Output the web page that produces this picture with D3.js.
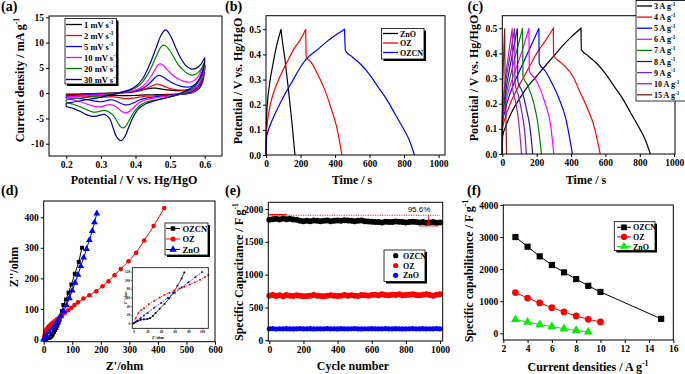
<!DOCTYPE html>
<html><head><meta charset="utf-8">
<script src="https://cdn.jsdelivr.net/npm/d3@7"></script>
<style>
body{margin:0;background:#fff;}
</style></head><body><script>
const FONT = '"Liberation Serif","Times New Roman",serif';

// ---- (a) CV curves: [potential V, current mA/g], anodic then cathodic ----
const cvLabels = ["1 mV s^{-1}", "2 mV s^{-1}", "5 mV s^{-1}", "10 mV s^{-1}", "20 mV s^{-1}", "30 mV s^{-1}"];
const cvColors = ["#000000", "#ff0000", "#0000ff", "#ff00ff", "#008000", "#00008b"];
const cv1 = [[0.2,-0.2],[0.25,-0.15],[0.3,-0.05],[0.35,0.1],[0.4,0.4],[0.43,0.8],[0.45,1.0],[0.46,1.0],[0.475,0.8],[0.5,0.6],[0.53,0.5],[0.55,0.6],[0.57,0.9],[0.585,1.8],[0.6,5.4],
  [0.595,2.5],[0.585,1.0],[0.57,0.3],[0.55,-0.1],[0.52,-0.2],[0.49,-0.25],[0.46,-0.3],[0.43,-0.35],[0.4,-0.45],[0.375,-0.5],[0.35,-0.45],[0.32,-0.4],[0.3,-0.4],[0.25,-0.3],[0.2,-0.3],[0.2,-0.2]];
const cv2 = [[0.2,-0.4],[0.25,-0.3],[0.3,-0.1],[0.35,0.0],[0.4,0.3],[0.43,0.9],[0.45,1.5],[0.46,1.8],[0.47,1.7],[0.485,1.3],[0.5,0.9],[0.53,0.6],[0.55,0.6],[0.57,0.9],[0.585,1.8],[0.6,5.5],
  [0.595,2.8],[0.585,1.3],[0.57,0.4],[0.55,-0.1],[0.52,-0.3],[0.49,-0.4],[0.46,-0.5],[0.43,-0.6],[0.41,-0.8],[0.39,-1.0],[0.375,-1.1],[0.36,-1.0],[0.345,-0.8],[0.33,-0.7],[0.315,-0.8],[0.3,-0.8],[0.28,-0.7],[0.25,-0.6],[0.2,-0.5],[0.2,-0.4]];
const cv5 = [[0.2,-0.6],[0.25,-0.4],[0.3,-0.2],[0.35,0.0],[0.4,0.4],[0.43,1.3],[0.45,2.6],[0.462,3.4],[0.47,3.5],[0.48,3.2],[0.495,2.5],[0.51,1.9],[0.53,1.4],[0.55,1.2],[0.565,1.4],[0.58,2.3],[0.6,5.5],
  [0.595,3.0],[0.585,1.6],[0.57,0.6],[0.55,0.0],[0.52,-0.3],[0.49,-0.5],[0.46,-0.7],[0.43,-1.0],[0.41,-1.4],[0.395,-1.9],[0.38,-2.3],[0.37,-2.3],[0.36,-2.1],[0.345,-1.6],[0.33,-1.3],[0.315,-1.5],[0.3,-1.7],[0.285,-1.6],[0.26,-1.3],[0.23,-1.0],[0.2,-0.9],[0.2,-0.6]];
const cv10 = [[0.2,-0.8],[0.25,-0.5],[0.3,-0.3],[0.35,0.0],[0.4,0.6],[0.42,1.3],[0.44,2.8],[0.455,4.5],[0.465,5.6],[0.472,5.8],[0.48,5.5],[0.495,4.4],[0.51,3.4],[0.53,2.6],[0.55,2.2],[0.565,2.3],[0.58,3.2],[0.6,5.8],
  [0.595,3.5],[0.585,2.0],[0.57,0.9],[0.55,0.2],[0.52,-0.3],[0.49,-0.6],[0.46,-0.9],[0.43,-1.3],[0.41,-1.9],[0.395,-2.8],[0.38,-3.7],[0.37,-3.9],[0.36,-3.6],[0.35,-3.0],[0.335,-2.4],[0.32,-2.3],[0.305,-2.6],[0.29,-2.7],[0.27,-2.4],[0.25,-1.9],[0.225,-1.4],[0.2,-1.1],[0.2,-0.8]];
const cv20 = [[0.2,-1.3],[0.25,-0.9],[0.3,-0.5],[0.35,0.0],[0.38,0.5],[0.4,1.0],[0.42,2.2],[0.44,4.3],[0.46,7.3],[0.472,9.0],[0.48,9.5],[0.49,9.2],[0.505,7.8],[0.52,6.0],[0.54,4.4],[0.56,3.6],[0.575,3.8],[0.59,4.8],[0.6,6.3],
  [0.595,4.0],[0.585,2.5],[0.57,1.2],[0.55,0.3],[0.52,-0.4],[0.49,-0.9],[0.46,-1.3],[0.43,-1.8],[0.41,-2.6],[0.395,-3.8],[0.38,-5.6],[0.368,-6.8],[0.36,-6.8],[0.35,-6.0],[0.34,-4.8],[0.325,-3.8],[0.31,-3.4],[0.29,-3.7],[0.275,-3.7],[0.26,-3.3],[0.24,-2.7],[0.22,-2.2],[0.2,-1.8],[0.2,-1.3]];
const cv30 = [[0.2,-2.0],[0.25,-1.4],[0.3,-0.8],[0.35,0.0],[0.38,0.6],[0.4,1.3],[0.42,2.8],[0.44,5.5],[0.46,9.0],[0.475,11.6],[0.487,12.5],[0.5,11.5],[0.515,9.2],[0.53,7.0],[0.545,5.5],[0.56,4.8],[0.575,4.9],[0.59,5.8],[0.6,7.0],
  [0.595,4.5],[0.585,2.8],[0.57,1.5],[0.55,0.6],[0.52,-0.3],[0.49,-0.9],[0.46,-1.4],[0.43,-2.1],[0.41,-3.0],[0.395,-4.5],[0.38,-6.8],[0.37,-8.5],[0.358,-9.4],[0.345,-8.6],[0.335,-6.8],[0.325,-5.0],[0.31,-4.2],[0.29,-4.5],[0.275,-4.6],[0.26,-4.3],[0.24,-3.6],[0.22,-3.0],[0.2,-2.6],[0.2,-2.0]];
const cvCurves = [cv1, cv2, cv5, cv10, cv20, cv30];

// ---- (b) GCD of the three samples: [time s, potential V] ----
const gcdSamples = ["ZnO", "OZ", "OZCN"];
const gcdSampleColors = ["#000000", "#ff0000", "#0000ff"];
const gcdSampleCharge = [
  [[0,0],[3,0.15],[10,0.22],[20,0.28],[40,0.36],[60,0.43],[87,0.5]],
  [[0,0],[2,0.08],[10,0.14],[25,0.2],[50,0.26],[80,0.31],[100,0.34],[130,0.38],[160,0.42],[200,0.46],[230,0.5]],
  [[0,0],[3,0.07],[10,0.09],[25,0.12],[50,0.16],[100,0.23],[150,0.29],[200,0.35],[232,0.38],[300,0.42],[350,0.45],[400,0.475],[455,0.5]]
];
const gcdSampleDischarge = [
  [[87,0.5],[90,0.48],[110,0.38],[130,0.26],[150,0.13],[168,0]],
  [[230,0.5],[233,0.39],[260,0.37],[300,0.32],[340,0.26],[380,0.18],[410,0.11],[440,0]],
  [[455,0.5],[460,0.415],[500,0.39],[550,0.36],[600,0.32],[650,0.27],[700,0.22],[750,0.16],[800,0.1],[830,0.06],[860,0]]
];

// ---- (c) GCD of OZCN at different current densities ----
const gcdCurrents = ["3 A g^{-1}", "4 A g^{-1}", "5 A g^{-1}", "6 A g^{-1}", "7 A g^{-1}", "8 A g^{-1}", "9 A g^{-1}", "10 A g^{-1}", "15 A g^{-1}"];
const gcdCurrentColors = ["#000000", "#ff0000", "#0000ff", "#ff00ff", "#008000", "#1c1c9c", "#7d1fb8", "#b01cb0", "#8b1a1a"];
const gcdCharge = [
  [[0,0],[2,0.07],[20,0.11],[50,0.16],[100,0.22],[150,0.27],[200,0.31],[250,0.35],[300,0.39],[350,0.43],[400,0.465],[458,0.5]],
  [[0,0],[1,0.1],[15,0.14],[40,0.19],[80,0.25],[120,0.3],[160,0.35],[200,0.4],[250,0.45],[297,0.5]],
  [[0,0],[1,0.12],[15,0.17],[40,0.23],[80,0.3],[120,0.36],[160,0.42],[213,0.5]],
  [[0,0],[1,0.13],[15,0.19],[40,0.26],[80,0.34],[120,0.42],[155,0.5]],
  [[0,0],[1,0.14],[15,0.21],[40,0.29],[80,0.4],[118,0.5]],
  [[0,0],[1,0.15],[15,0.23],[40,0.33],[65,0.42],[88,0.5]],
  [[0,0],[1,0.16],[15,0.26],[40,0.37],[72,0.5]],
  [[0,0],[1,0.17],[15,0.28],[35,0.39],[58,0.5]],
  [[0,0],[1,0.2],[6,0.35],[14,0.5]]
];
const gcdDischarge = [
  [[458,0.5],[460,0.415],[500,0.39],[550,0.36],[600,0.32],[650,0.27],[700,0.22],[750,0.16],[800,0.1],[830,0.06],[862,0]],
  [[297,0.5],[299,0.39],[330,0.37],[370,0.345],[410,0.31],[450,0.25],[490,0.19],[530,0.12],[570,0]],
  [[213,0.5],[215,0.36],[250,0.33],[290,0.28],[330,0.22],[370,0.14],[408,0]],
  [[155,0.5],[157,0.33],[190,0.3],[220,0.26],[250,0.2],[280,0.12],[300,0]],
  [[118,0.5],[120,0.31],[150,0.27],[180,0.21],[205,0.13],[228,0]],
  [[88,0.5],[90,0.29],[115,0.25],[140,0.18],[160,0.11],[177,0]],
  [[72,0.5],[74,0.28],[95,0.23],[115,0.16],[130,0.09],[140,0]],
  [[58,0.5],[60,0.26],[80,0.2],[95,0.13],[112,0]],
  [[14,0.5],[16,0.3],[20,0.2],[25,0]]
];

// ---- (d) Nyquist plots: [Z' ohm, Z'' ohm] ----
const eisSamples = ["OZCN", "OZ", "ZnO"];
const eisColors = ["#000000", "#ff0000", "#0000ff"];
const eisOZCN = [[3,0],[8,2],[12,4],[16,5],[20,6],[24,8],[27,11],[30,15],[33,20],[36,25],[40,31],[44,38],[48,46],[52,55],[56,65],[60,78],[64,93],[69,113],[78,131],[87,153],[97,180],[109,215],[123,254],[134,300]];
const eisOZ = [[0,0],[2,10],[4,18],[6,25],[9,31],[12,36],[16,41],[20,45],[25,50],[31,55],[38,60],[46,66],[55,73],[65,80],[75,88],[86,96],[97,104],[108,113],[120,122],[139,134],[160,145],[184,158],[206,174],[227,191],[248,210],[270,231],[297,256],[324,284],[352,324],[385,371],[422,430]];
const eisZnO = [[0,0],[5,6],[10,12],[20,24],[30,36],[40,48],[50,61],[60,76],[70,93],[80,112],[90,135],[100,160],[110,186],[120,212],[130,240],[140,268],[150,296],[160,325],[170,355],[178,383],[186,412]];
// inset (zoom near origin)
const insetOZCN = [[0,0],[3,3],[6,5],[10,8],[15,9],[20,10],[24,12],[28,17],[32,24],[38,34],[45,45],[52,58],[58,71],[64,87],[70,104],[74,118]];
const insetOZ = [[0,0],[3,12],[7,24],[11,31],[15,35],[22,44],[30,52],[38,60],[45,66],[52,71],[59,76],[67,81],[74,85],[82,90],[89,95],[97,101],[104,107],[109,112]];
const insetZnO = [[0,0],[5,6],[10,12],[15,18],[20,24],[30,36],[40,47],[50,59],[60,71],[70,83],[80,95],[90,107],[100,119]];

// ---- (e) cycling stability, every 20 cycles ----
const cycleNumbers = d3.range(0, 1001, 20);
const cycOZCN = [1835,1845,1850,1840,1855,1845,1850,1840,1835,1820,1815,1820,1815,1825,1820,1815,1820,1825,1815,1820,1825,1820,1830,1825,1820,1815,1820,1825,1815,1810,1805,1800,1800,1795,1805,1800,1800,1810,1805,1800,1795,1800,1805,1800,1795,1800,1790,1795,1800,1790,1795];
const cycOZ = [680,690,675,685,670,690,680,675,685,680,670,675,680,690,680,675,670,680,685,680,675,680,690,680,685,680,675,690,685,680,690,695,685,700,690,685,695,690,700,685,690,695,700,690,685,695,700,690,680,695,700];
const cycZnO = [175,178,172,176,174,177,175,173,176,178,174,175,177,173,176,175,174,178,175,176,173,177,175,174,176,178,175,173,176,175,177,174,176,175,178,174,175,177,176,173,175,176,178,174,175,177,175,176,174,178,175];
const retentionLine = 1905;
const retentionLow = 1742;

// ---- (f) rate capability ----
const rateX = [3, 4, 5, 6, 7, 8, 9, 10, 15];
const rateOZCN = [3000, 2700, 2400, 2130, 1900, 1690, 1480, 1290, 450];
const rateOZ = [1270, 1100, 945, 800, 665, 540, 436, 353];
const rateZnO = [430, 350, 270, 208, 145, 92, 40];

// ================= drawing =================
const svg = d3.select("body").append("svg").attr("width", 685).attr("height", 374);

function rich(textSel, str, size) {
  const parts = str.split(/(\^\{[^}]*\})/).filter(p => p);
  let reset = 0;
  parts.forEach(p => {
    if (p.startsWith("^{")) {
      textSel.append("tspan").attr("dy", -size * 0.4).attr("font-size", size * 0.65).text(p.slice(2, -1));
      reset = size * 0.4;
    } else {
      textSel.append("tspan").attr("dy", reset).text(p);
      reset = 0;
    }
  });
  return textSel;
}

function label(x, y, str, size, opts = {}) {
  const t = svg.append("text")
    .attr("font-family", opts.family || FONT)
    .attr("font-weight", opts.weight || "bold")
    .attr("font-size", size)
    .attr("fill", opts.fill || "#000")
    .attr("text-anchor", opts.anchor || "start");
  if (opts.rotate) t.attr("transform", `translate(${x},${y}) rotate(-90)`);
  else t.attr("x", x).attr("y", y);
  return rich(t, str, size);
}

function makePanel(p) {
  const x = d3.scaleLinear().domain(p.xDomain).range([p.left, p.right]);
  const y = d3.scaleLinear().domain(p.yDomain).range([p.bottom, p.top]);
  const g = svg.append("g");
  if (p.background) {
    g.append("rect").attr("x", p.left).attr("y", p.top)
      .attr("width", p.right - p.left).attr("height", p.bottom - p.top).attr("fill", p.background);
  }
  const tl = p.tickLen || 3, tp = p.tickPad || 2;
  const xa = g.append("g").attr("transform", `translate(0,${p.bottom})`)
    .call(d3.axisBottom(x).tickValues(p.xTicks).tickFormat(p.xFormat || d3.format("d")).tickSize(tl).tickPadding(tp));
  const ya = g.append("g").attr("transform", `translate(${p.left},0)`)
    .call(d3.axisLeft(y).tickValues(p.yTicks).tickFormat(p.yFormat || d3.format("d")).tickSize(tl).tickPadding(tp));
  [xa, ya].forEach(a => {
    a.select(".domain").remove();
    a.selectAll("text").attr("font-family", FONT).attr("font-weight", "bold")
      .attr("font-size", p.tickFont || 9.5).attr("fill", "#000");
    a.selectAll("line").attr("stroke", "#000").attr("stroke-width", p.tickWidth || 1);
  });
  const data = g.append("g");
  g.append("rect").attr("x", p.left).attr("y", p.top)
    .attr("width", p.right - p.left).attr("height", p.bottom - p.top)
    .attr("fill", "none").attr("stroke", "#000").attr("stroke-width", p.frameWidth || 1);
  return { x, y, g, data };
}

function legendBox(x0, y0, x1, y1, shadow = 2) {
  svg.append("rect").attr("x", x0 + shadow).attr("y", y0 + shadow)
    .attr("width", x1 - x0).attr("height", y1 - y0).attr("fill", "#000");
  svg.append("rect").attr("x", x0).attr("y", y0)
    .attr("width", x1 - x0).attr("height", y1 - y0)
    .attr("fill", "#fff").attr("stroke", "#000").attr("stroke-width", 0.8);
}

function symbolPath(type, size) {
  const t = { square: d3.symbolSquare, circle: d3.symbolCircle, triangle: d3.symbolTriangle }[type];
  return d3.symbol().type(t).size(size)();
}

// ---------- (a) ----------
{
  const P = makePanel({ left: 49, right: 222, top: 16, bottom: 156,
    xDomain: [0.15, 0.65], yDomain: [-12.43, 15.26],
    xTicks: [0.2, 0.3, 0.4, 0.5, 0.6], yTicks: [-10, -5, 0, 5, 10, 15],
    xFormat: d3.format(".1f"), yFormat: d => String(d) });
  const line = d3.line().x(d => P.x(d[0])).y(d => P.y(d[1])).curve(d3.curveCatmullRom.alpha(0.5));
  cvCurves.forEach((c, i) => {
    P.data.append("path").attr("d", line(c)).attr("fill", "none")
      .attr("stroke", cvColors[i]).attr("stroke-width", 1.2);
  });
  legendBox(65, 18.5, 116.5, 84);
  cvLabels.forEach((l, i) => {
    const yy = 24.5 + i * 11;
    svg.append("line").attr("x1", 66).attr("x2", 82).attr("y1", yy).attr("y2", yy)
      .attr("stroke", cvColors[i]).attr("stroke-width", 1.3);
    label(84, yy + 3, l, 8.5);
  });
  label(134, 184, "Potential / V vs. Hg/HgO", 12, { anchor: "middle" });
  label(24, 80, "Current density / mA g^{-1}", 12, { anchor: "middle", rotate: true });
  label(1, 10.5, "(a)", 14);
}

// ---------- (b) ----------
{
  const P = makePanel({ left: 266, right: 445, top: 15.7, bottom: 155,
    xDomain: [0, 1037], yDomain: [0, 0.554],
    xTicks: [0, 200, 400, 600, 800, 1000], yTicks: [0, 0.1, 0.2, 0.3, 0.4, 0.5],
    yFormat: d3.format(".1f") });
  const line = d3.line().x(d => P.x(d[0])).y(d => P.y(d[1])).curve(d3.curveMonotoneX);
  gcdSamples.forEach((s, i) => {
    P.data.append("path").attr("d", line(gcdSampleCharge[i]) + line(gcdSampleDischarge[i]).replace(/^M/, "L"))
      .attr("fill", "none").attr("stroke", gcdSampleColors[i]).attr("stroke-width", 1.2);
  });
  legendBox(381.5, 28.5, 424, 59);
  gcdSamples.forEach((s, i) => {
    const yy = 33.5 + i * 9.5;
    svg.append("line").attr("x1", 383).attr("x2", 398).attr("y1", yy).attr("y2", yy)
      .attr("stroke", gcdSampleColors[i]).attr("stroke-width", 1.3);
    label(400, yy + 3, s, 8);
  });
  label(352, 184, "Time / s", 12, { anchor: "middle" });
  label(242, 81, "Potential / V vs. Hg/HgO", 12, { anchor: "middle", rotate: true });
  label(225, 10.5, "(b)", 14);
}

// ---------- (c) ----------
{
  const P = makePanel({ left: 502.3, right: 675, top: 15.7, bottom: 154,
    xDomain: [0, 1005], yDomain: [0, 0.55],
    xTicks: [0, 200, 400, 600, 800, 1000], yTicks: [0, 0.1, 0.2, 0.3, 0.4, 0.5],
    yFormat: d3.format(".1f") });
  const line = d3.line().x(d => P.x(d[0])).y(d => P.y(d[1])).curve(d3.curveMonotoneX);
  gcdCurrents.forEach((s, i) => {
    P.data.append("path").attr("d", line(gcdCharge[i]) + line(gcdDischarge[i]).replace(/^M/, "L"))
      .attr("fill", "none").attr("stroke", gcdCurrentColors[i]).attr("stroke-width", 1.2);
  });
  legendBox(636, 0.5, 690, 101, 0);
  gcdCurrents.forEach((s, i) => {
    const yy = 6 + i * 11.1;
    svg.append("line").attr("x1", 637).attr("x2", 652).attr("y1", yy).attr("y2", yy)
      .attr("stroke", gcdCurrentColors[i]).attr("stroke-width", 1.3);
    label(654, yy + 3, s, 8);
  });
  label(586, 184, "Time / s", 12, { anchor: "middle" });
  label(478, 78, "Potential / V vs. Hg/HgO", 12, { anchor: "middle", rotate: true });
  label(467.5, 10.5, "(c)", 14);
}

// ---------- (d) ----------
{
  const P = makePanel({ left: 43.7, right: 215, top: 201, bottom: 341.7,
    xDomain: [0, 600], yDomain: [-7, 453],
    xTicks: [0, 100, 200, 300, 400, 500, 600], yTicks: [0, 100, 200, 300, 400] });
  const series = [eisOZCN, eisOZ, eisZnO];
  const syms = ["square", "circle", "triangle"];
  const symSize = [16, 16, 20];
  const line = d3.line().x(d => P.x(d[0])).y(d => P.y(d[1]));
  series.forEach((s, i) => {
    P.data.append("path").attr("d", line(s)).attr("fill", "none")
      .attr("stroke", eisColors[i]).attr("stroke-width", 1);
    P.data.selectAll(null).data(s).join("path")
      .attr("transform", d => `translate(${P.x(d[0])},${P.y(d[1])})`)
      .attr("d", symbolPath(syms[i], symSize[i])).attr("fill", eisColors[i]);
  });
  // inset
  const I = makePanel({ left: 132.3, right: 208.3, top: 267.7, bottom: 328.3,
    xDomain: [-2, 109], yDomain: [-11.6, 129],
    xTicks: [0, 20, 40, 60, 80, 100], yTicks: [0, 20, 40, 60, 80, 100, 120],
    tickFont: 3.4, tickWidth: 0.5, tickLen: 1.3, tickPad: 0.8, frameWidth: 0.8, background: "#fff" });
  const iline = d3.line().x(d => I.x(d[0])).y(d => I.y(d[1]));
  [insetOZCN, insetOZ, insetZnO].forEach((s, i) => {
    I.data.append("path").attr("d", iline(s)).attr("fill", "none")
      .attr("stroke", eisColors[i]).attr("stroke-width", 0.7)
      .attr("stroke-dasharray", i === 0 ? null : "2,1");
    I.data.selectAll(null).data(s).join("path")
      .attr("transform", d => `translate(${I.x(d[0])},${I.y(d[1])})`)
      .attr("d", symbolPath(syms[i], 3)).attr("fill", eisColors[i]);
  });
  label(158, 338.6, "Z'/ohm", 3.8, { anchor: "middle" });
  label(127, 298, "Z''/ohm", 3.8, { anchor: "middle", rotate: true });

  legendBox(165, 223, 208, 255);
  eisSamples.forEach((s, i) => {
    const yy = 228.5 + i * 10.5;
    svg.append("line").attr("x1", 166).attr("x2", 180).attr("y1", yy).attr("y2", yy)
      .attr("stroke", eisColors[i]).attr("stroke-width", 1);
    svg.append("path").attr("transform", `translate(173,${yy})`)
      .attr("d", symbolPath(syms[i], symSize[i] + 4)).attr("fill", eisColors[i]);
    label(182.5, yy + 3, s, 8.5);
  });
  label(124.5, 370, "Z'/ohm", 12, { anchor: "middle" });
  label(18, 267, "Z''/ohm", 12, { anchor: "middle", rotate: true });
  label(1, 194.5, "(d)", 14);
}

// ---------- (e) ----------
{
  const P = makePanel({ left: 268.3, right: 442.7, top: 202.3, bottom: 341,
    xDomain: [-6, 1016], yDomain: [-11, 2102],
    xTicks: [0, 200, 400, 600, 800, 1000], yTicks: [0, 500, 1000, 1500, 2000] });
  const cyc = [cycOZCN, cycOZ, cycZnO];
  const radius = [3, 3, 2.6];
  cyc.forEach((s, i) => {
    P.data.selectAll(null).data(s).join("circle")
      .attr("cx", (d, j) => P.x(cycleNumbers[j])).attr("cy", d => P.y(d))
      .attr("r", radius[i]).attr("fill", eisColors[i]);
  });
  P.data.append("line").attr("x1", P.x(0)).attr("x2", P.x(1000))
    .attr("y1", P.y(retentionLine)).attr("y2", P.y(retentionLine))
    .attr("stroke", "#ff0000").attr("stroke-width", 0.9).attr("stroke-dasharray", "1.2,1.2");
  P.data.append("line").attr("x1", P.x(0)).attr("x2", P.x(100))
    .attr("y1", P.y(retentionLine + 10)).attr("y2", P.y(retentionLine + 10))
    .attr("stroke", "#ff0000").attr("stroke-width", 1.4);
  P.data.append("line").attr("x1", P.x(932)).attr("x2", P.x(932))
    .attr("y1", P.y(retentionLine)).attr("y2", P.y(retentionLow))
    .attr("stroke", "#ff0000").attr("stroke-width", 0.9);
  P.data.append("line").attr("x1", P.x(880)).attr("x2", P.x(990))
    .attr("y1", P.y(retentionLow)).attr("y2", P.y(retentionLow))
    .attr("stroke", "#ff0000").attr("stroke-width", 0.9);
  P.data.append("path")
    .attr("d", `M${P.x(932) - 1.8},${P.y(retentionLow) - 4}L${P.x(932)},${P.y(retentionLow)}L${P.x(932) + 1.8},${P.y(retentionLow) - 4}`)
    .attr("fill", "none").attr("stroke", "#ff0000").attr("stroke-width", 0.8);
  label(419, 212, "95.6%", 8, { anchor: "middle", weight: "normal", family: '"Liberation Sans",Arial,sans-serif' });

  legendBox(384, 250, 425, 281.5);
  eisSamples.forEach((s, i) => {
    const yy = 255.7 + i * 9.8;
    svg.append("circle").attr("cx", 395.7).attr("cy", yy).attr("r", 2.6).attr("fill", eisColors[i]);
    label(403, yy + 3, s, 8);
  });
  label(353, 369.5, "Cycle number", 12, { anchor: "middle" });
  label(243, 272, "Specific Capacitance / F g^{-1}", 12, { anchor: "middle", rotate: true });
  label(225, 194.5, "(e)", 14);
}

// ---------- (f) ----------
{
  const P = makePanel({ left: 503.3, right: 673.3, top: 205, bottom: 340,
    xDomain: [2, 16], yDomain: [-209, 4000],
    xTicks: [2, 4, 6, 8, 10, 12, 14, 16], yTicks: [0, 1000, 2000, 3000, 4000] });
  const rates = [rateOZCN, rateOZ, rateZnO];
  const rateColors = ["#000000", "#ff0000", "#00ee00"];
  const syms = ["square", "circle", "triangle"];
  const sz = [38, 36, 34];
  const line = d3.line().x(d => P.x(d[0])).y(d => P.y(d[1]));
  rates.forEach((s, i) => {
    const pts = s.map((v, j) => [rateX[j], v]);
    P.data.append("path").attr("d", line(pts)).attr("fill", "none")
      .attr("stroke", rateColors[i]).attr("stroke-width", 1);
    P.data.selectAll(null).data(pts).join("path")
      .attr("transform", d => `translate(${P.x(d[0])},${P.y(d[1])})`)
      .attr("d", symbolPath(syms[i], sz[i])).attr("fill", rateColors[i]);
  });
  legendBox(614.3, 221.7, 655, 250.5);
  eisSamples.forEach((s, i) => {
    const yy = 227.3 + i * 9.6;
    svg.append("line").attr("x1", 617).attr("x2", 631).attr("y1", yy).attr("y2", yy)
      .attr("stroke", rateColors[i]).attr("stroke-width", 1);
    svg.append("path").attr("transform", `translate(624,${yy})`)
      .attr("d", symbolPath(syms[i], sz[i] - 6)).attr("fill", rateColors[i]);
    label(633, yy + 3, s, 8);
  });
  label(588, 371, "Current densities / A g^{-1}", 12, { anchor: "middle" });
  label(473, 271, "Specific capabilitance / F g^{-1}", 12, { anchor: "middle", rotate: true });
  label(467, 194.5, "(f)", 14);
}
</script></body></html>
